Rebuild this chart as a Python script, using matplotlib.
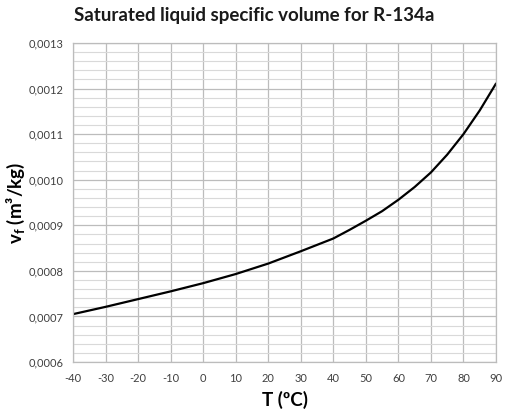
import matplotlib
matplotlib.use("Agg")
import matplotlib.pyplot as plt
from matplotlib.ticker import MultipleLocator, FuncFormatter

T = [-40, -30, -20, -10, 0, 10, 20, 30, 40, 45, 50, 55, 60, 65, 70, 75, 80, 85, 90]
vf = [0.000705, 0.000721, 0.000738, 0.000755, 0.000773, 0.000793, 0.000816,
      0.000843, 0.000871, 0.000890, 0.000910, 0.000931, 0.000956, 0.000984,
      0.001016, 0.001055, 0.001100, 0.001152, 0.001211]

title = "Saturated liquid specific volume for R-134a"
xlabel = "T (ºC)"
ylabel = r"v$_\mathregular{f}$ (m³/kg)"

plt.rcParams['font.family'] = ['Lato', 'DejaVu Sans']

fig = plt.figure(figsize=(5.08, 4.11), dpi=100)
ax = fig.add_axes([73/508, 1-362/411, (496-73)/508, (362-43)/411])

ax.plot(T, vf, color='black', lw=1.6, solid_capstyle='round')

ax.set_xlim(-40, 90)
ax.set_ylim(0.0006, 0.0013)
ax.xaxis.set_major_locator(MultipleLocator(10))
ax.yaxis.set_major_locator(MultipleLocator(0.0001))
ax.yaxis.set_minor_locator(MultipleLocator(0.00002))
ax.yaxis.set_major_formatter(FuncFormatter(lambda v, p: f"{v:.4f}".replace('.', ',')))
ax.xaxis.set_major_formatter(FuncFormatter(lambda v, p: f"{v:.0f}"))

ax.grid(which='major', axis='both', color='#bcbcbc', lw=0.9)
ax.grid(which='minor', axis='y', color='#d9d9d9', lw=0.8)
ax.set_axisbelow(True)
for s in ax.spines.values():
    s.set_color('#bcbcbc')
    s.set_linewidth(0.9)
ax.tick_params(which='both', length=0, labelsize=8, labelcolor='#404040')
ax.tick_params(axis='y', pad=7)
ax.tick_params(axis='x', pad=8)

fig.text(254/508, 1-15/411, title, ha='center', va='center', fontsize=13.5, fontweight='bold', color='#1a1a1a')
ax.set_xlabel(xlabel, fontsize=13.5, fontweight='bold', labelpad=5)
ax.set_ylabel(ylabel, fontsize=13.5, fontweight='bold', va='center')
ax.yaxis.set_label_coords((16 - 73) / 423, 0.5)

fig.savefig("out.png", dpi=100)
